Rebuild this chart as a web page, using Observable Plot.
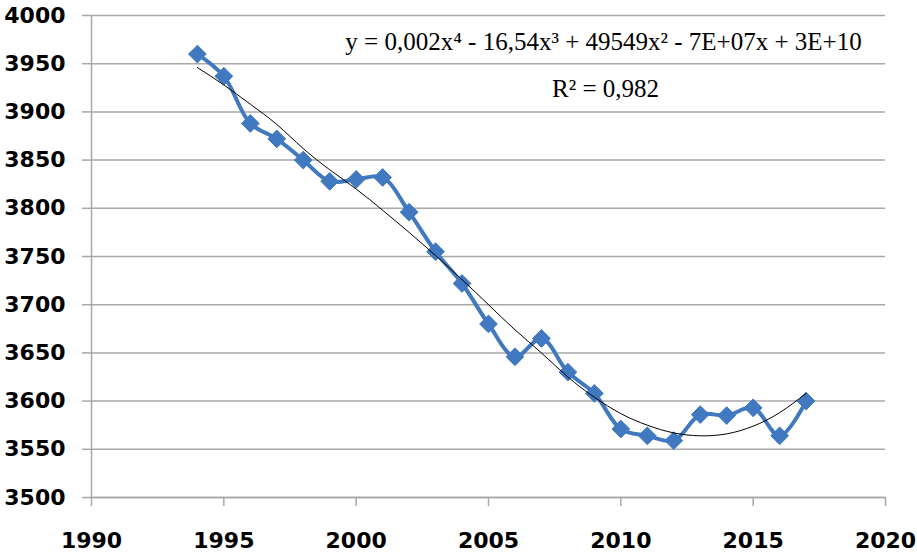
<!DOCTYPE html>
<html>
<head>
<meta charset="utf-8">
<script src="https://cdn.jsdelivr.net/npm/d3@7"></script>
<script src="https://cdn.jsdelivr.net/npm/@observablehq/plot@0.6"></script>
<style>
  html, body { margin: 0; padding: 0; background: #fff; }
</style>
</head>
<body>
<div id="chart"></div>
<script>
const years = [1994,1995,1996,1997,1998,1999,2000,2001,2002,2003,2004,2005,2006,2007,2008,2009,2010,2011,2012,2013,2014,2015,2016,2017];
const values = [3960,3937,3888,3872,3850,3828,3830,3832,3796,3755,3722,3680,3646,3665,3630,3608,3571,3564,3559,3586,3585,3593,3564,3600];
const trendValues = [3946,3928,3908,3887,3862,3840,3820,3798,3775,3751,3726,3700,3674,3650,3625,3604,3587,3575,3567,3564,3566,3574,3588,3608];
const xTicks = [1990,1995,2000,2005,2010,2015,2020];
const yTicks = [3500,3550,3600,3650,3700,3750,3800,3850,3900,3950,4000];
const equationText = "y = 0,002x\u2074 - 16,54x\u00B3 + 49549x\u00B2 - 7E+07x + 3E+10";
const r2Text = "R\u00B2 = 0,982";

const data = years.map((y, i) => ({year: y, value: values[i]}));
const trend = years.map((y, i) => ({year: y, value: trendValues[i]}));

const blue = "#4179c0";
const grid = "#a8a8a8";

const chart = Plot.plot({
  width: 917,
  height: 555,
  marginLeft: 91,
  marginRight: 32,
  marginTop: 15,
  marginBottom: 58,
  style: {fontFamily: "DejaVu Sans", fontWeight: "bold", fontSize: "22px", color: "#000", background: "#fff"},
  x: {domain: [1990, 2020]},
  y: {domain: [3500, 4000]},
  marks: [
    Plot.gridY(yTicks, {stroke: grid, strokeOpacity: 1, strokeWidth: 1.5}),
    Plot.axisY(yTicks, {tickSize: 9, tickPadding: 17, stroke: grid, strokeWidth: 1.5, label: null, tickFormat: d => String(d), fontSize: 22, fontWeight: "bold"}),
    Plot.axisX(xTicks, {tickSize: 9, tickPadding: 26, stroke: grid, strokeWidth: 1.5, label: null, tickFormat: d => String(d), fontSize: 22, fontWeight: "bold"}),
    Plot.ruleX([1990], {stroke: grid, strokeWidth: 1.5}),
    Plot.ruleY([3500], {stroke: grid, strokeWidth: 1.5}),
    Plot.line(data, {x: "year", y: "value", stroke: blue, strokeWidth: 4, curve: "catmull-rom"}),
    Plot.dot(data, {x: "year", y: "value", symbol: "diamond2", r: 8, fill: blue, stroke: blue, strokeWidth: 1}),
    Plot.line(trend, {x: "year", y: "value", stroke: "#000", strokeWidth: 1, curve: "natural"}),
    Plot.text([equationText], {frameAnchor: "top-left", dx: 512, dy: 34, lineAnchor: "bottom", text: d => d, textAnchor: "middle", fontFamily: "Liberation Serif", fontWeight: "normal", fontSize: 25, fill: "#000"}),
    Plot.text([r2Text], {frameAnchor: "top-left", dx: 514, dy: 81, lineAnchor: "bottom", text: d => d, textAnchor: "middle", fontFamily: "Liberation Serif", fontWeight: "normal", fontSize: 25, fill: "#000"})
  ]
});
document.getElementById("chart").appendChild(chart);
</script>
</body>
</html>
